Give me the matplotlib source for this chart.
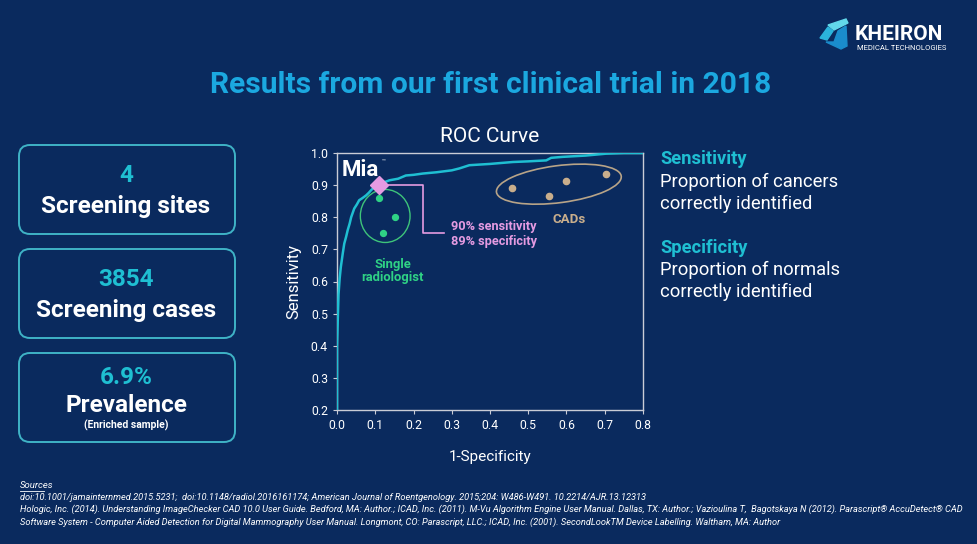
import matplotlib
matplotlib.use("Agg")
import matplotlib.pyplot as plt
import matplotlib.transforms as mtransforms
from matplotlib.patches import FancyBboxPatch, Ellipse, Polygon
from matplotlib.lines import Line2D

# ROC curve of Mia
roc_fpr = [0.0, 0.0, 0.002, 0.004, 0.007, 0.01, 0.015, 0.019, 0.024, 0.028, 0.033,
           0.037, 0.045, 0.052, 0.058, 0.067, 0.076, 0.083, 0.089, 0.096, 0.102,
           0.115, 0.137, 0.16, 0.18, 0.2, 0.224, 0.26, 0.30, 0.32, 0.346, 0.4,
           0.46, 0.5, 0.547, 0.56, 0.59, 0.65, 0.704, 0.75, 0.8]
roc_tpr = [0.2, 0.40, 0.48, 0.56, 0.61, 0.645, 0.687, 0.718, 0.74, 0.76, 0.78,
           0.80, 0.827, 0.84, 0.853, 0.86, 0.868, 0.876, 0.884, 0.892, 0.90,
           0.905, 0.915, 0.92, 0.93, 0.932, 0.936, 0.94, 0.946, 0.952, 0.962, 0.966,
           0.972, 0.974, 0.977, 0.985, 0.988, 0.992, 0.998, 1.0, 1.0]

mia_point = (0.11, 0.90)
radiologist_fpr = [0.109, 0.151, 0.120]
radiologist_tpr = [0.861, 0.800, 0.751]
cad_fpr = [0.457, 0.554, 0.600, 0.702]
cad_tpr = [0.890, 0.865, 0.913, 0.936]

stat_numbers = ["4", "3854", "6.9%"]
stat_labels = ["Screening sites", "Screening cases", "Prevalence"]

sources = [
    "doi:10.1001/jamainternmed.2015.5231;  doi:10.1148/radiol.2016161174; American Journal of Roentgenology. 2015;204: W486-W491. 10.2214/AJR.13.12313",
    "Hologic, Inc. (2014). Understanding ImageChecker CAD 10.0 User Guide. Bedford, MA: Author.; ICAD, Inc. (2011). M-Vu Algorithm Engine User Manual. Dallas, TX: Author.; Vazioulina T,  Bagotskaya N (2012). Parascript\u00ae AccuDetect\u00ae CAD",
    "Software System - Computer Aided Detection for Digital Mammography User Manual. Longmont, CO: Parascript, LLC.; ICAD, Inc. (2001). SecondLookTM Device Labelling. Waltham, MA: Author",
]

BG = "#0a2a5e"
CYAN = "#1fbfd2"
TITLE = "#1ba8e0"
PINK = "#e59be2"
GREEN = "#2fd285"
TAN = "#c9ae8c"
SPINE = "#c9ccd6"

plt.rcParams["font.family"] = ["Roboto", "DejaVu Sans"]

W, H = 977, 544
fig = plt.figure(figsize=(W / 100, H / 100), dpi=100, facecolor=BG)
# pixel coordinates measured from the top-left corner
pix = mtransforms.Affine2D().scale(1 / 100, -1 / 100).translate(0, H / 100) + fig.dpi_scale_trans

fig.text(491, 85, "Results from our first clinical trial in 2018", transform=pix,
         color=TITLE, fontsize=21.6, fontweight="bold", ha="center", va="center")

# logo
fig.patches.append(Polygon([(828, 25), (846, 19), (848, 23), (834, 30)], closed=True,
                           transform=pix, color="#62d8ea", figure=fig))
fig.patches.append(Polygon([(820, 38), (828, 27), (833, 31), (827, 40)], closed=True,
                           transform=pix, color="#2bb4dc", figure=fig))
fig.patches.append(Polygon([(838, 31), (846, 26), (847, 46), (841, 49), (826, 42), (834, 42)],
                           closed=True, transform=pix, color="#1a8ccc", figure=fig))
fig.text(855, 34, "KHEIRON", transform=pix, color="white", fontsize=15,
         fontweight="bold", ha="left", va="center")
fig.text(857, 48, "MEDICAL TECHNOLOGIES", transform=pix, color="white", fontsize=5.5,
         ha="left", va="center")

# stat boxes
box_tops = [145, 249, 353]
number_y = [176, 279, 377]
label_y = [207, 311, 406]
for i, top in enumerate(box_tops):
    fig.patches.append(FancyBboxPatch((19, top), 216, 89, boxstyle="round,pad=0,rounding_size=11",
                                      transform=pix, facecolor=BG, edgecolor="#3fb3c6",
                                      lw=1.4, figure=fig))
    fig.text(126, number_y[i], stat_numbers[i], transform=pix, color=CYAN, fontsize=17.5,
             fontweight="bold", ha="center", va="center")
    fig.text(126, label_y[i], stat_labels[i], transform=pix, color="white", fontsize=17.5,
             fontweight="bold", ha="center", va="center")
fig.text(126, 425, "(Enriched sample)", transform=pix, color="white", fontsize=7.5,
         fontweight="bold", ha="center", va="center")

# definitions on the right
right_lines = [("Sensitivity", 159, CYAN, "bold"),
               ("Proportion of cancers", 182, "white", "normal"),
               ("correctly identified", 204, "white", "normal"),
               ("Specificity", 248, CYAN, "bold"),
               ("Proportion of normals", 270, "white", "normal"),
               ("correctly identified", 292, "white", "normal")]
for txt, y, col, wt in right_lines:
    fig.text(660, y, txt, transform=pix, color=col, fontsize=13.2, fontweight=wt,
             ha="left", va="center")

# ROC chart
ax = fig.add_axes([337 / W, 1 - 410 / H, 306 / W, 257 / H], facecolor=BG)
ax.plot(roc_fpr, roc_tpr, color=CYAN, lw=1.8, zorder=3)
ax.plot([mia_point[0], 0.225, 0.225, 0.28], [mia_point[1], mia_point[1], 0.75, 0.75],
        color=PINK, lw=1.2, zorder=2)
ax.plot(*mia_point, marker="D", color=PINK, markersize=9, zorder=4)
ax.scatter(radiologist_fpr, radiologist_tpr, s=18, color=GREEN, zorder=3)
ax.add_patch(Ellipse((0.126, 0.804), 0.13, 0.165, fill=False, edgecolor="#3ec47a", lw=1.0))
ax.scatter(cad_fpr, cad_tpr, s=20, color=TAN, zorder=3)
ax.add_patch(Ellipse((0.58, 0.903), 0.33, 0.115, angle=9, fill=False, edgecolor="#b8a488", lw=1.2))

ax.text(0.012, 0.947, "Mia", color="white", fontsize=16, fontweight="bold", va="center")
ax.text(0.116, 0.975, "\u2122", color="white", fontsize=4.5, va="center")
ax.text(0.298, 0.77, "90% sensitivity", color=PINK, fontsize=9.2, fontweight="bold", va="center")
ax.text(0.298, 0.723, "89% specificity", color=PINK, fontsize=9.2, fontweight="bold", va="center")
ax.text(0.146, 0.654, "Single", color=GREEN, fontsize=9.4, fontweight="bold", ha="center", va="center")
ax.text(0.146, 0.612, "radiologist", color=GREEN, fontsize=9.4, fontweight="bold", ha="center", va="center")
ax.text(0.608, 0.794, "CADs", color=TAN, fontsize=9.6, fontweight="bold", ha="center", va="center")

ax.set_xlim(0, 0.8)
ax.set_ylim(0.2, 1.0)
ax.set_xticks([0.0, 0.1, 0.2, 0.3, 0.4, 0.5, 0.6, 0.7, 0.8])
ax.set_yticks([0.2, 0.3, 0.4, 0.5, 0.6, 0.7, 0.8, 0.9, 1.0])
ax.xaxis.set_major_formatter(plt.FormatStrFormatter("%.1f"))
ax.yaxis.set_major_formatter(plt.FormatStrFormatter("%.1f"))
for s in ax.spines.values():
    s.set_color(SPINE)
    s.set_linewidth(1.0)
ax.tick_params(colors=SPINE, labelcolor="white", labelsize=8.8, length=3, width=0.8)
ax.set_title("ROC Curve", color="white", fontsize=15, pad=8)
ax.set_xlabel("1-Specificity", color="white", fontsize=11, labelpad=13)
ax.set_ylabel("Sensitivity", color="white", fontsize=12, labelpad=7)

# sources, shrunk so the longest line fits the slide width like the condensed original
src_texts = []
fig.text(20, 486, "Sources", transform=pix, color="white", fontsize=6.8, style="italic",
         ha="left", va="center")
fig.lines.append(Line2D([20, 44], [491, 491], transform=pix, color="white", lw=0.6, figure=fig))
for i, line in enumerate(sources):
    src_texts.append(fig.text(20, 497 + 12.5 * i, line, transform=pix, color="white",
                              fontsize=7, style="italic", ha="left", va="center"))
renderer = fig.canvas.get_renderer()
widest = max(t.get_window_extent(renderer).width for t in src_texts)
for t in src_texts:
    t.set_fontsize(7 * 945 / widest)

fig.savefig("out.png", dpi=100, facecolor=BG)
